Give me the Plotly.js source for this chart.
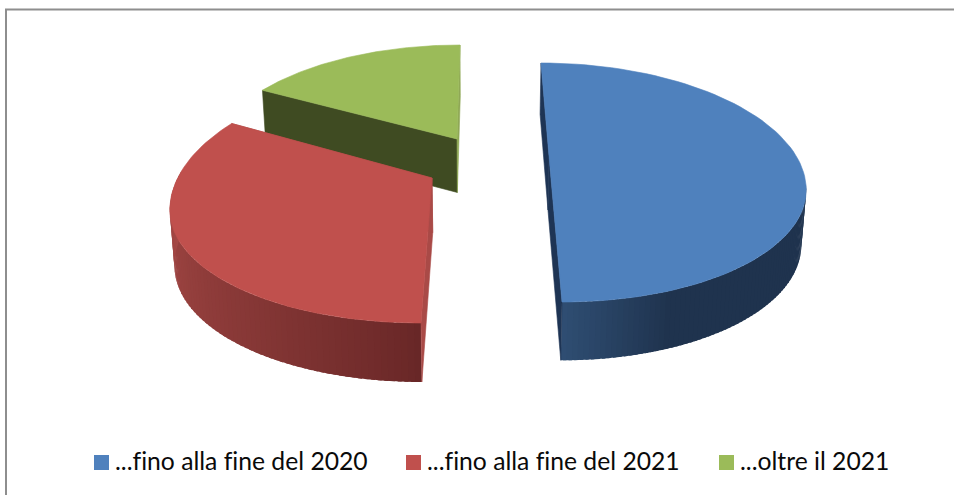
<!DOCTYPE html>
<html>
<head>
<meta charset="utf-8">
<script src="https://cdn.plot.ly/plotly-3.0.1.min.js"></script>
<style>html,body{margin:0;padding:0;background:#fff} svg text{font-variant-ligatures:none !important;font-feature-settings:"liga" 0,"clig" 0 !important}</style>
</head>
<body>
<div id="chart" style="width:954px;height:495px"></div>
<script>
// --- data ---
const categories = ['...fino alla fine del 2020', '...fino alla fine del 2021', '...oltre il 2021'];
const shares = [50, 35.5, 14.5];

// --- colours ---
const topColors = ['#4f81bd', '#c0504d', '#9bbb59'];
const wallLight = ['#2f4e73', '#a84a47', '#8fa855'];
const wallDark = ['#1f334e', '#672626', '#8fa855'];
const edgeStart = ['#1e3454', '#a94a47', '#3f4b22'];
const edgeEnd = ['#1e3454', '#a94a47', '#8fa855'];
const shadeFrom = [0.72, 0, 0];
const shadePower = [1, 0.8, 1];

// --- projection of each exploded slice, in pixels of the picture ---
const views = [
  {tip: [549, 156], ex: 551.5, sh: -10.5, a: 254.5, ey: 185, up: 122, down: 117},
  {tip: [432, 178], ex: 432, sh: 11, a: 262, ey: 205, up: 133, down: 118},
  {tip: [457, 139], ex: 460, sh: 0, a: 250, ey: 162, up: 117, down: 117}
];
const drawOrder = [2, 0, 1];
const legendX = [94, 406, 719];
const legendTextX = [113.5, 425.5, 738.5];

function rim(v, deg) {
  const t = deg * Math.PI / 180, c = Math.cos(t), s = Math.sin(t);
  return [v.ex + v.a * s + v.sh * c, v.ey - (c > 0 ? v.up : v.down) * c];
}
function under(p) {
  return [480 + (p[0] - 480) * 0.985, p[1] + 52 + 0.03 * (p[1] - 90)];
}
function mix(a, b, f) {
  const pa = [1, 3, 5].map(i => parseInt(a.substr(i, 2), 16));
  const pb = [1, 3, 5].map(i => parseInt(b.substr(i, 2), 16));
  return 'rgb(' + pa.map((v, i) => Math.round(v + (pb[i] - v) * f)).join(',') + ')';
}
function poly(pts, color, extra) {
  const closed = pts.concat([pts[0]]);
  return Object.assign({
    type: 'scatter', mode: 'lines', x: closed.map(p => p[0]), y: closed.map(p => p[1]),
    fill: 'toself', fillcolor: color, line: {color: color, width: 0.6},
    hoverinfo: 'skip', showlegend: false
  }, extra || {});
}

const traces = [];
const total = shares.reduce((a, b) => a + b, 0);
const starts = shares.map((_, i) => shares.slice(0, i).reduce((a, b) => a + b, 0) / total * 360);

drawOrder.forEach(i => {
  const v = views[i], t0 = starts[i], t1 = t0 + shares[i] / total * 360;
  // outer wall, shaded strip by strip
  const lo = Math.max(t0, 90), hi = Math.min(t1, 285);
  const steps = 70;
  if (hi > lo) {
    for (let k = 0; k < steps; k++) {
      const a = lo + (hi - lo) * k / steps, b = lo + (hi - lo) * (k + 1.6) / steps;
      const g = (k + 0.5) / steps;
      const f = Math.pow(Math.max(0, (g - shadeFrom[i]) / (1 - shadeFrom[i])), shadePower[i]);
      const shade = mix(wallDark[i], wallLight[i], f);
      const pa = rim(v, a), pb = rim(v, Math.min(b, hi));
      traces.push(poly([pa, pb, under(pb), under(pa)], shade, {line: {width: 0}}));
    }
  }
  // flat cut walls
  const ps = rim(v, t0), pe = rim(v, t1);
  traces.push(poly([ps, v.tip, under(v.tip), under(ps)], edgeStart[i]));
  traces.push(poly([pe, v.tip, under(v.tip), under(pe)], edgeEnd[i]));
  // top face
  const pts = [v.tip];
  for (let d = t0; d <= t1 + 1e-6; d += (t1 - t0) / 90) pts.push(rim(v, d));
  traces.push(poly(pts, topColors[i], {name: categories[i]}));
});

// legend swatches
categories.forEach((c, i) => {
  traces.push({
    type: 'scatter', mode: 'markers', x: [legendX[i] + 7.5], y: [462.5],
    cliponaxis: false, marker: {symbol: 'square', size: 15, color: topColors[i]},
    hoverinfo: 'skip', showlegend: false, name: c
  });
});

const layout = {
  width: 954, height: 495, margin: {l: 0, r: 0, t: 0, b: 0},
  paper_bgcolor: '#fff', plot_bgcolor: '#fff', showlegend: false,
  xaxis: {range: [0, 954], visible: false, fixedrange: true},
  yaxis: {range: [495, 0], visible: false, fixedrange: true},
  annotations: categories.map((c, i) => ({
    text: c, x: legendTextX[i], y: 460.5, xref: 'x', yref: 'y', xanchor: 'left', yanchor: 'middle',
    showarrow: false, borderpad: 0,
    font: {family: 'Lato, Carlito, sans-serif', size: 24.7, color: '#0a0a0a'}
  })),
  shapes: [{type: 'rect', xref: 'x', yref: 'y', x0: 6, y0: 9.5, x1: 970, y1: 510,
            line: {color: '#8e8e8e', width: 2}, fillcolor: 'rgba(0,0,0,0)', layer: 'below'}]
};
Plotly.newPlot('chart', traces, layout, {staticPlot: true, displayModeBar: false});
</script>
</body>
</html>
